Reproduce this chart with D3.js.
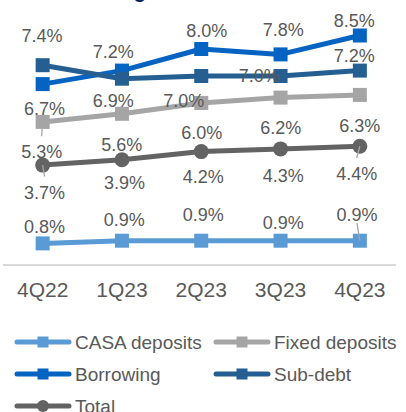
<!DOCTYPE html>
<html>
<head>
<meta charset="utf-8">
<script src="https://cdn.jsdelivr.net/npm/d3@7"></script>
<style>
  body { margin: 0; background: #fff; }
  svg { display: block; font-family: "Liberation Sans", Arial, sans-serif; }
</style>
</head>
<body>
<svg id="chart" width="406" height="412"></svg>
<script>
// Quarterly cost by funding source (%)
const quarters = ["4Q22", "1Q23", "2Q23", "3Q23", "4Q23"];
const casaDeposits = [0.8, 0.9, 0.9, 0.9, 0.9];
const fixedDeposits = [5.3, 5.6, 6.0, 6.2, 6.3];
const borrowing = [6.7, 7.2, 8.0, 7.8, 8.5];
const subDebt = [7.4, 6.9, 7.0, 7.0, 7.2];
const total = [3.7, 3.9, 4.2, 4.3, 4.4];
const seriesNames = ["CASA deposits", "Fixed deposits", "Borrowing", "Sub-debt", "Total"];

// Label placement (pixel offset of each value label from its point)
const casaLabelOffsets = [[1.9, -10.7], [2.3, -15], [2, -20.2], [2.8, -11.7], [-2.9, -19.7]];
const fixedLabelOffsets = [[-1, 36.4], [-0.3, 37.2], [0.5, 35.5], [0.3, 36.4], [-0.2, 36.6]];
const borrowingLabelOffsets = [[1.9, 30.4], [-8.6, -12.3], [5.5, -11.7], [2.8, -18.4], [-5.7, -8.8]];
const subDebtLabelOffsets = [[-0.7, -22.9], [-8.6, 28.6], [-17.6, 31.3], [-21.4, 5.7], [-5.7, -8.9]];
const totalLabelOffsets = [[1.9, 33.4], [2.5, 29.3], [2, 31.1], [2.8, 32.8], [-3.2, 33.8]];
// Labels that are tied back to their point with a leader line
const leaderLabels = [["Fixed deposits", 0], ["Total", 0], ["Total", 4], ["CASA deposits", 4]];

const series = [
  { name: seriesNames[0], values: casaDeposits, offsets: casaLabelOffsets, color: "#5B9BD5", marker: "square" },
  { name: seriesNames[1], values: fixedDeposits, offsets: fixedLabelOffsets, color: "#A5A5A5", marker: "square" },
  { name: seriesNames[2], values: borrowing, offsets: borrowingLabelOffsets, color: "#0563C1", marker: "square" },
  { name: seriesNames[3], values: subDebt, offsets: subDebtLabelOffsets, color: "#255E91", marker: "square" },
  { name: seriesNames[4], values: total, offsets: totalLabelOffsets, color: "#636363", marker: "circle" }
];

const textColor = "#595959";
const svg = d3.select("#chart");

const x = d3.scaleBand().domain(quarters).range([3, 399.5]).padding(0);
const cx = q => x(q) + x.bandwidth() / 2;
const y = d3.scaleLinear().domain([0, 9]).range([265, 22]);

// Title (sits above the visible area)
svg.append("text")
  .attr("x", 146).attr("y", -2)
  .attr("text-anchor", "end")
  .attr("font-size", 20).attr("font-weight", "bold")
  .attr("fill", "#002060")
  .text("Cost of funding");

// Category axis
const xAxis = svg.append("g").attr("transform", `translate(0,${y(0)})`)
  .call(d3.axisBottom(x).tickSize(0).tickPadding(0));
xAxis.select(".domain").attr("d", "M3,0H396").attr("stroke", "#D9D9D9").attr("stroke-width", 2);
xAxis.selectAll(".tick text")
  .attr("y", 32.3).attr("dy", null)
  .attr("font-size", 21).attr("font-family", "Liberation Sans, Arial, sans-serif")
  .attr("fill", textColor);

// Lines and markers
const line = d3.line().x((d, i) => cx(quarters[i])).y(d => y(d));
const mSize = 14;

series.forEach(s => {
  const g = svg.append("g");
  g.append("path")
    .attr("d", line(s.values))
    .attr("fill", "none")
    .attr("stroke", s.color)
    .attr("stroke-width", 5)
    .attr("stroke-linejoin", "round");
  if (s.marker === "square") {
    g.selectAll("rect").data(s.values).join("rect")
      .attr("x", (d, i) => cx(quarters[i]) - mSize / 2)
      .attr("y", d => y(d) - mSize / 2)
      .attr("width", mSize).attr("height", mSize)
      .attr("fill", s.color);
  } else {
    g.selectAll("circle").data(s.values).join("circle")
      .attr("cx", (d, i) => cx(quarters[i]))
      .attr("cy", d => y(d))
      .attr("r", 7.5)
      .attr("fill", s.color);
  }
});

// Leader lines
const capH = 13;
leaderLabels.forEach(([name, i]) => {
  const s = series.find(t => t.name === name);
  const px = cx(quarters[i]), py = y(s.values[i]);
  const [dx, dy] = s.offsets[i];
  const lx = px + dx, base = py + dy;
  const pts = dy > 0 ? [[px, py], [lx, base - capH - 9]] : [[lx, base + 2], [px, py]];
  svg.append("line")
    .attr("x1", pts[0][0]).attr("y1", pts[0][1])
    .attr("x2", pts[1][0]).attr("y2", pts[1][1])
    .attr("stroke", "#A6A6A6").attr("stroke-width", 1.3);
});

// Value labels
series.forEach(s => {
  svg.append("g").selectAll("text").data(s.values).join("text")
    .attr("x", (d, i) => cx(quarters[i]) + s.offsets[i][0])
    .attr("y", (d, i) => y(d) + s.offsets[i][1])
    .attr("text-anchor", "middle")
    .attr("font-size", 18)
    .attr("fill", textColor)
    .text(d => d3.format(".1f")(d) + "%");
});

// Legend
const legendPos = [[15, 342], [214, 342], [15, 374], [214, 374], [15, 406]];
series.forEach((s, k) => {
  const [lx, ly] = legendPos[k];
  const g = svg.append("g").attr("transform", `translate(${lx},${ly})`);
  g.append("line").attr("x1", 2).attr("x2", 54).attr("y1", 0).attr("y2", 0)
    .attr("stroke", s.color).attr("stroke-width", 5).attr("stroke-linecap", "round");
  if (s.marker === "square") {
    g.append("rect").attr("x", 28 - 5.5).attr("y", -5.5).attr("width", 11).attr("height", 11).attr("fill", s.color);
  } else {
    g.append("circle").attr("cx", 28).attr("cy", 0).attr("r", 6).attr("fill", s.color);
  }
  g.append("text").attr("x", 60).attr("y", 0).attr("dy", "0.35em")
    .attr("font-size", 19).attr("fill", textColor)
    .text(s.name);
});
</script>
</body>
</html>
